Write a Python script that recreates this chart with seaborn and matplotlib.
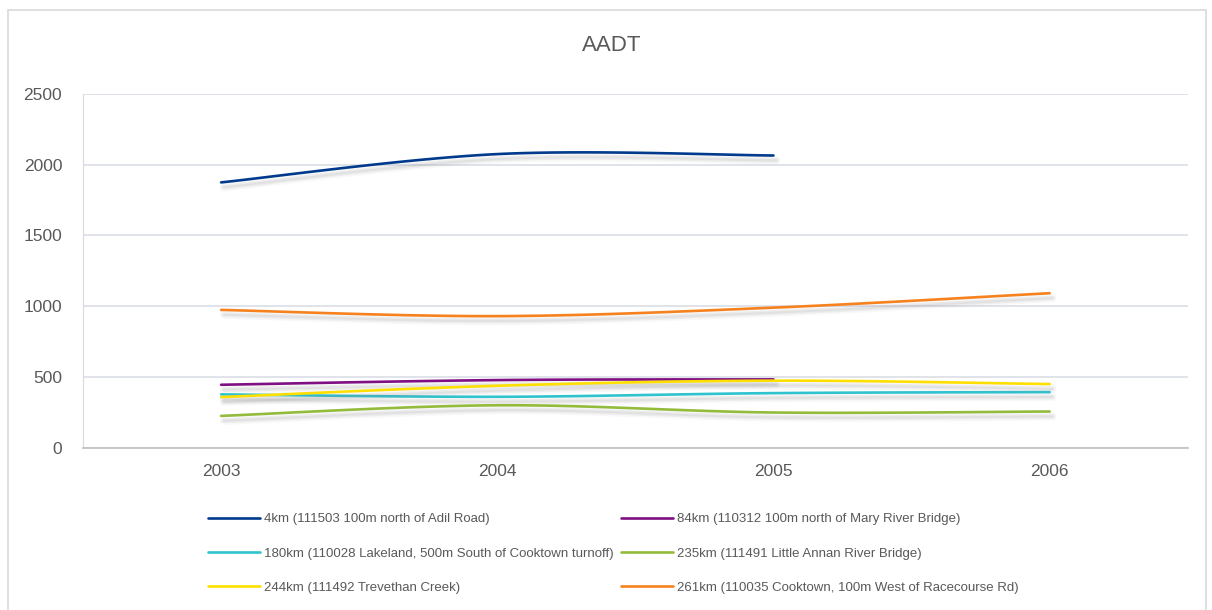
import numpy as np
import pandas as pd
import matplotlib
matplotlib.use("Agg")
import matplotlib.pyplot as plt
import matplotlib.patheffects as pe
from matplotlib.lines import Line2D
import seaborn as sns

# data
years = ["2003", "2004", "2005", "2006"]
labels = [
    "4km (111503 100m north of Adil Road)",
    "84km (110312 100m north of Mary River Bridge)",
    "180km (110028 Lakeland, 500m South of Cooktown turnoff)",
    "235km (111491 Little Annan River Bridge)",
    "244km (111492 Trevethan Creek)",
    "261km (110035 Cooktown, 100m West of Racecourse Rd)",
]
km4 = [1875, 2075, 2065, None]
km84 = [445, 478, 483, None]
km180 = [377, 360, 386, 393]
km235 = [225, 300, 249, 256]
km244 = [358, 438, 474, 450]
km261 = [974, 930, 990, 1092]
series = [km4, km84, km180, km235, km244, km261]
colors = ["#003a8c", "#7f0f82", "#2fc3cf", "#93bb3c", "#ffdf00", "#f6821f"]

sns.set_style("white")
plt.rcParams["font.family"] = ["Liberation Sans", "DejaVu Sans"]


def smooth(ys, n=40):
    # Catmull-Rom style curve through the points, like Excel's smoothed lines
    pts = [(i, y) for i, y in enumerate(ys) if y is not None]
    x = np.array([p[0] for p in pts], float)
    y = np.array([p[1] for p in pts], float)
    xs, ysm = [], []
    for i in range(len(x) - 1):
        p0 = np.array([x[max(i - 1, 0)], y[max(i - 1, 0)]])
        p1 = np.array([x[i], y[i]])
        p2 = np.array([x[i + 1], y[i + 1]])
        p3 = np.array([x[min(i + 2, len(x) - 1)], y[min(i + 2, len(x) - 1)]])
        c1 = p1 + (p2 - p0) / 6
        c2 = p2 - (p3 - p1) / 6
        t = np.linspace(0, 1, n)[:, None]
        b = (1 - t) ** 3 * p1 + 3 * (1 - t) ** 2 * t * c1 + 3 * (1 - t) * t ** 2 * c2 + t ** 3 * p2
        xs.extend(b[:, 0]); ysm.extend(b[:, 1])
    return xs, ysm


fig = plt.figure(figsize=(12.12, 6.1), dpi=100)
ax = fig.add_axes([0.0685, 0.266, 0.9115, 0.58])

# soft drop shadow under each line
shadow = [pe.SimpleLineShadow(offset=(2, -3.5), shadow_color="#888888", alpha=0.06, linewidth=6),
          pe.SimpleLineShadow(offset=(2, -3.5), shadow_color="#888888", alpha=0.10, linewidth=3.5),
          pe.SimpleLineShadow(offset=(2, -3.5), shadow_color="#888888", alpha=0.10, linewidth=1.5),
          pe.Normal()]
for lab, vals, col in zip(labels, series, colors):
    xs, ys = smooth(vals)
    df = pd.DataFrame({"x": xs, "y": ys})
    sns.lineplot(data=df, x="x", y="y", ax=ax, color=col, linewidth=1.9, sort=False,
                 estimator=None, path_effects=shadow)

ax.set_xlim(-0.5, 3.5)
ax.set_ylim(0, 2500)
ax.set_yticks(range(0, 2501, 500))
ax.set_xticks(range(4))
ax.set_xticklabels(years)
ax.set_xticks(np.arange(-0.5, 3.6, 1), minor=True)
ax.tick_params(axis="x", which="major", length=0, pad=12, labelsize=12.5, colors="#595959")
ax.tick_params(axis="x", which="minor", length=6, width=1, color="#bfbfbf", direction="out")
ax.tick_params(axis="y", length=0, pad=15, labelsize=12.5, colors="#595959")
ax.grid(axis="y", color="#dde1e8", linewidth=1.3)
ax.set_xlabel("")
ax.set_ylabel("")
for s in ["top", "right"]:
    ax.spines[s].set_visible(False)
ax.spines["left"].set_color("#d9d9d9")
ax.spines["bottom"].set_color("#bfbfbf")
ax.spines["bottom"].set_linewidth(1.2)

fig.text(0.505, 0.925, "AADT", ha="center", va="center", fontsize=16, color="#595959")

# legend, filled row by row like the original
handles = [Line2D([], [], color=c, linewidth=1.9) for c in colors]
order = [0, 2, 4, 1, 3, 5]
fig.legend([handles[i] for i in order], [labels[i] for i in order], ncol=2, frameon=False,
           loc="upper left", bbox_to_anchor=(0.1658, 0.170), fontsize=9.5, borderpad=0,
           handlelength=4.0, handletextpad=0.3, columnspacing=0.5, labelspacing=1.68,
           labelcolor="#595959")

# outer chart border
fig.patches.append(plt.Rectangle((0.007, -0.02), 0.988, 1.003, transform=fig.transFigure,
                                 fill=False, edgecolor="#d9d9d9", linewidth=1.2))

fig.savefig("out.png", dpi=100)
